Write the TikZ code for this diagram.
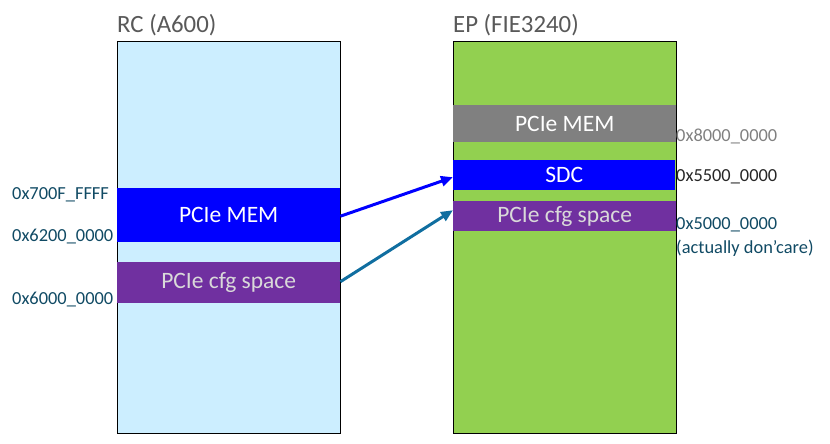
\documentclass[tikz,border=0pt]{standalone}
\usepackage{fontspec}
\setmainfont{Carlito}
\usetikzlibrary{arrows.meta}
\definecolor{rcfill}{RGB}{204,238,255}
\definecolor{epfill}{RGB}{146,208,80}
\definecolor{memblue}{RGB}{0,0,255}
\definecolor{cfgpurple}{RGB}{112,48,160}
\definecolor{memgray}{RGB}{128,128,128}
\definecolor{titlegray}{RGB}{89,89,89}
\definecolor{labteal}{RGB}{16,74,100}
\definecolor{labgray}{RGB}{128,128,128}
\definecolor{labdark}{RGB}{38,38,38}
\definecolor{cfgtext}{RGB}{217,217,217}
\definecolor{arrteal}{RGB}{16,110,160}
\tikzset{
  membox/.style={draw=black, line width=1pt, minimum width=223pt, minimum height=392pt, inner sep=0pt, anchor=north west},
  bar/.style={minimum width=223pt, inner sep=0pt, anchor=north west, font=\fontsize{23.5}{26}\selectfont},
  title/.style={anchor=south west, inner sep=0pt, text=titlegray, font=\fontsize{24.8}{28}\selectfont},
  addr/.style={anchor=west, inner sep=0pt, font=\fontsize{18.4}{20}\selectfont},
  conn/.style={line width=3pt, -{Triangle[length=12pt,width=10pt]}}
}
\begin{document}
\begin{tikzpicture}[x=1pt,y=-1pt]
\useasboundingbox (0,0) rectangle (830,444);
% boxes
\node[membox, fill=rcfill] (rc) at (117,41) {};
\node[membox, fill=epfill] (ep) at (453,41) {};
\node[title] (rct) at (117,36) {RC (A600)};
\node[title] (ept) at (453,36) {EP (FIE3240)};
% RC bars
\node[bar, fill=memblue, minimum height=54pt, text=white] (rcmem) at (117,188) {PCIe MEM};
\node[bar, fill=cfgpurple, minimum height=41pt, text=cfgtext] (rccfg) at (117,262) {PCIe cfg space};
% EP bars
\node[bar, fill=memgray, minimum height=37pt, text=white] (epmem) at (453,105) {PCIe MEM};
\node[bar, fill=memblue, minimum height=30pt, minimum width=222pt, text=white] (sdc) at (453,160) {SDC};
\node[bar, fill=cfgpurple, minimum height=30pt, text=cfgtext] (epcfg) at (453,201) {PCIe cfg space};
% left labels
\node[addr, text=labteal] (a1) at (12,195) {0x700F\_FFFF};
\node[addr, text=labteal] (a2) at (12,237) {0x6200\_0000};
\node[addr, text=labteal] (a3) at (12,300) {0x6000\_0000};
% right labels
\node[addr, text=labgray] (b1) at (676,136) {0x8000\_0000};
\node[addr, text=labdark] (b2) at (676,177) {0x5500\_0000};
\node[addr, text=labteal] (b3) at (676,225) {0x5000\_0000};
\node[addr, text=labteal] (b4) at (676,248) {(actually don’care)};
% connectors
\coordinate (s1) at ([yshift=-1pt]rcmem.east);
\coordinate (e1) at ([yshift=-2pt]sdc.west);
\coordinate (s2) at ([yshift=1pt]rccfg.east);
\coordinate (e2) at ([yshift=6pt]epcfg.west);
\draw[conn, memblue] (s1) -- (e1);
\draw[conn, arrteal] (s2) -- (e2);
\end{tikzpicture}
\end{document}
